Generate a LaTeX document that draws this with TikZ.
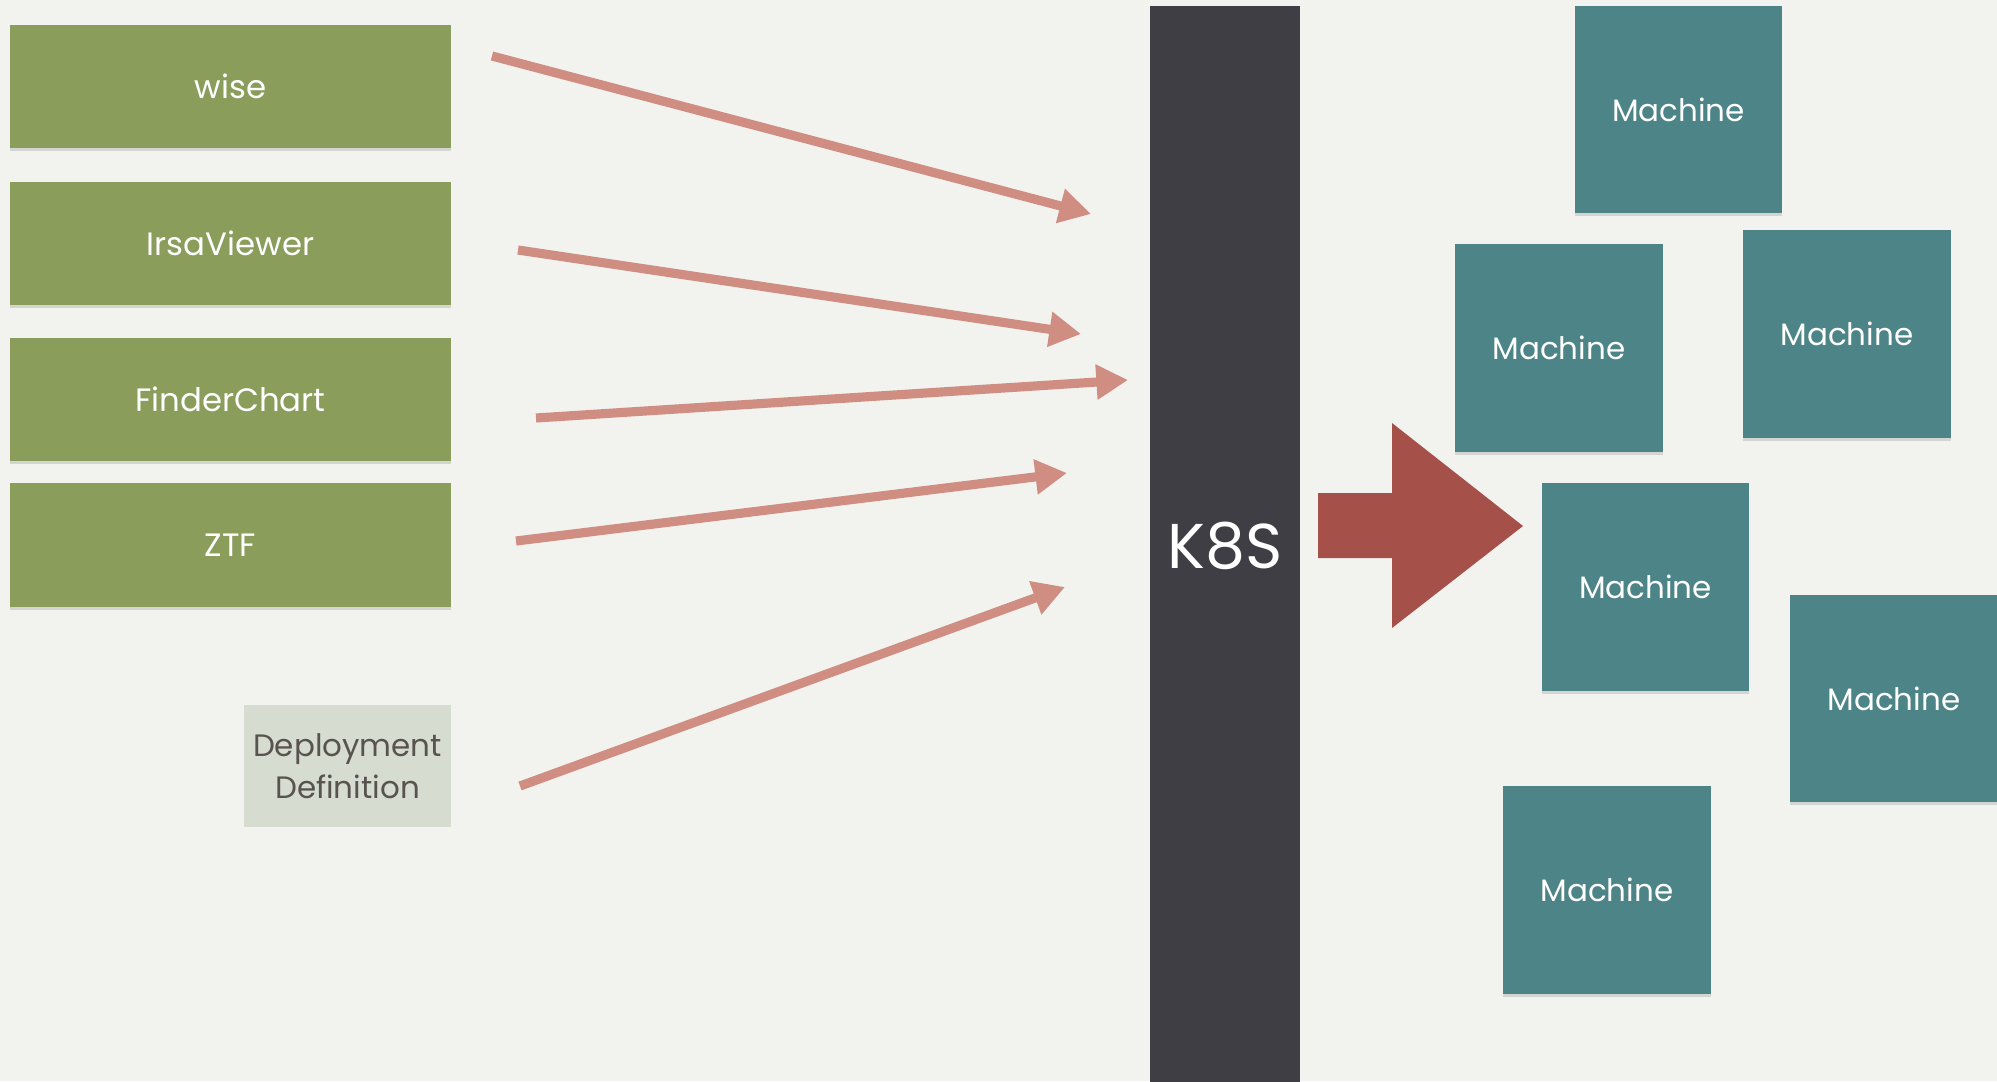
\documentclass[tikz,border=0pt]{standalone}
\usepackage{fontspec}
\setmainfont{Poppins}
\usetikzlibrary{arrows.meta,shadows}

\definecolor{paper}{HTML}{F2F2EF}
\definecolor{appgreen}{HTML}{8A9D5B}
\definecolor{defgreen}{HTML}{D6DDD0}
\definecolor{deftext}{HTML}{58534F}
\definecolor{k8sgray}{HTML}{3F3E44}
\definecolor{machteal}{HTML}{4D8487}
\definecolor{linkred}{HTML}{D08D82}
\definecolor{bigred}{HTML}{A6504A}

\tikzset{
  softshadow/.style={drop shadow={shadow xshift=0pt,shadow yshift=-0.9pt,opacity=0.12,fill=black}},
  app/.style={fill=appgreen,text=white,minimum width=4.41cm,minimum height=1.23cm,
    outer sep=0pt,inner sep=0pt,font=\fontsize{9.2}{11}\selectfont,softshadow},
  machine/.style={fill=machteal,text=white,minimum width=2.07cm,minimum height=2.07cm,
    outer sep=0pt,inner sep=0pt,font=\fontsize{8.8}{11}\selectfont,softshadow},
  link/.style={draw=linkred,line width=2.6pt,-{Triangle[length=9pt,width=9.5pt]}},
}

\begin{document}
\begin{tikzpicture}[x=0.01cm,y=-0.01cm]

  % paper
  \fill[paper] (0,0) rectangle (1997,1081);
  \useasboundingbox (0,0) rectangle (1997,1081);

  % services
  \node[app] (wise)   at (230.5,86.5)  {wise};
  \node[app] (irsa)   at (230.5,243.5) {IrsaViewer};
  \node[app] (finder) at (230.5,399.5) {FinderChart};
  \node[app] (ztf)    at (230.5,545)   {ZTF};
  \node[fill=defgreen,text=deftext,minimum width=2.07cm,minimum height=1.22cm,
        inner sep=0pt,align=center,font=\fontsize{8.8}{12}\selectfont]
        (deploy) at (347.5,766) {Deployment\\Definition};

  % the cluster bar
  \node[fill=k8sgray,text=white,minimum width=1.5cm,minimum height=10.8cm,
        inner sep=0pt,font=\fontsize{18}{20}\selectfont,softshadow]
        (k8s) at (1225,546) {K8S};

  % arrow ends
  \coordinate (s1) at (492,56);   \coordinate (t1) at (1091,214);
  \coordinate (s2) at (518,250);  \coordinate (t2) at (1081,334);
  \coordinate (s3) at (536,418);  \coordinate (t3) at (1128,380);
  \coordinate (s4) at (516,541);  \coordinate (t4) at (1067,473);
  \coordinate (s5) at (520,786);  \coordinate (t5) at (1065,587);

  \foreach \i in {1,...,5}
    \draw[link] (s\i) -- (t\i);

  % big arrow
  \fill[bigred] (1318,493) -- (1392,493) -- (1392,423) -- (1523,526)
     -- (1392,628) -- (1392,558) -- (1318,558) -- cycle;

  % machines
  \node[machine] (m1) at (1678.5,109.5) {Machine};
  \node[machine] (m2) at (1559,348)     {Machine};
  \node[machine] (m3) at (1847,334)     {Machine};
  \node[machine] (m4) at (1645.5,587)   {Machine};
  \node[machine] (m5) at (1894,698.5)   {Machine};
  \node[machine] (m6) at (1607,890)     {Machine};

\end{tikzpicture}
\end{document}
